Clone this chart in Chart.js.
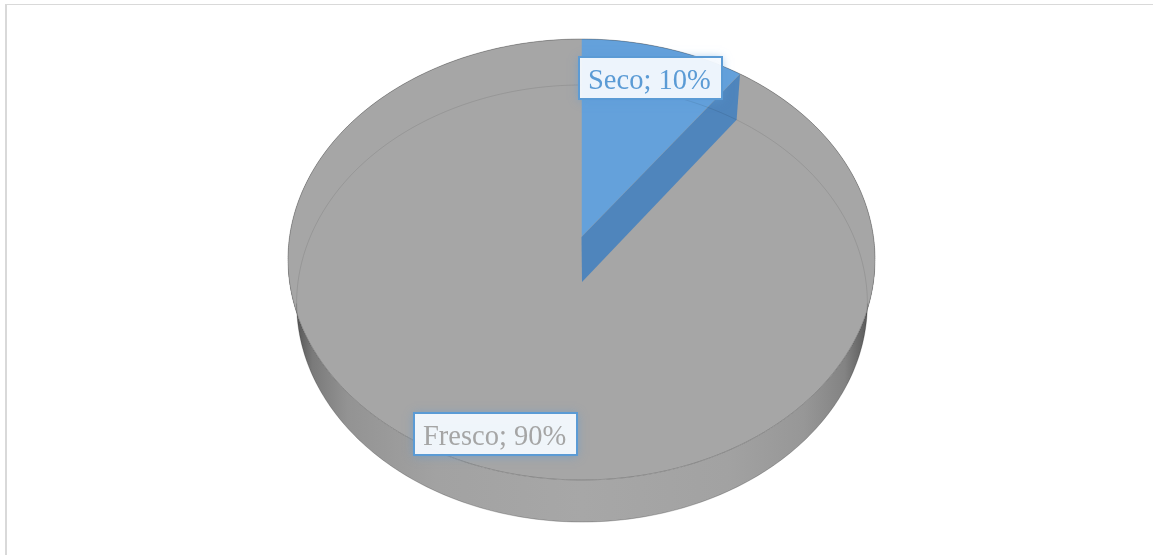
<!DOCTYPE html>
<html lang="es">
<head>
<meta charset="utf-8">
<title>Seco / Fresco</title>
<script src="https://cdn.jsdelivr.net/npm/chart.js@4.4.1/dist/chart.umd.min.js"></script>
<style>
  html, body { margin: 0; padding: 0; background: #fff; }
  #wrap { position: relative; width: 1153px; height: 555px; overflow: hidden; }
  #frame {
    position: absolute; left: 5px; top: 4px; width: 1200px; height: 600px;
    border-left: 2px solid #d9d9d9; border-top: 1px solid #d9d9d9;
    pointer-events: none;
  }
  canvas { display: block; }
</style>
</head>
<body>
<div id="wrap">
  <canvas id="pieChart" width="1153" height="555"></canvas>
  <div id="frame"></div>
</div>
<script>
const categories = ["Seco", "Fresco"];
const shares = [10, 90];

const sliceColors = ["#64a1db", "#a6a6a6"];
const wallColor = "#4f85bc";
const labelColors = ["#5b9bd5", "#a5a5a5"];
const labelRadius = [0.83, 0.87];

// the two discs of the cylinder seen in perspective:
// centre of the pie, half width, depth and foreshortening factor
const topFace = { cx: 581.5, cy: 237, a: 292, b: 218.2, k: -0.102 };
const baseFace = { cx: 582, cy: 282, a: 284, b: 216.4, k: -0.0984 };

function project(face, x, y) {
  const w = 1 + face.k * y;
  return [face.cx + face.a * x / w, face.cy + face.b * y / w];
}

function rimPoints(face, t0, t1, n) {
  const pts = [];
  for (let i = 0; i <= n; i++) {
    const t = t0 + (t1 - t0) * i / n;
    pts.push(project(face, Math.cos(t), Math.sin(t)));
  }
  return pts;
}

// angle where the rim is widest on screen
function sideAngle(face) {
  return Math.asin(-face.k);
}

function tracePoints(ctx, pts, close) {
  ctx.beginPath();
  pts.forEach((p, i) => (i ? ctx.lineTo(p[0], p[1]) : ctx.moveTo(p[0], p[1])));
  if (close) ctx.closePath();
}

function drawSide(ctx) {
  const tT = sideAngle(topFace);
  const tB = sideAngle(baseFace);
  const upper = rimPoints(topFace, tT, Math.PI - tT, 180);
  const lower = rimPoints(baseFace, Math.PI - tB, tB, 180);
  tracePoints(ctx, upper.concat(lower), true);

  const grad = ctx.createLinearGradient(289, 0, 874, 0);
  grad.addColorStop(0, "#3c3c3c");
  grad.addColorStop(0.012, "#555555");
  grad.addColorStop(0.04, "#7a7a7a");
  grad.addColorStop(0.1, "#939393");
  grad.addColorStop(0.25, "#a2a2a2");
  grad.addColorStop(0.5, "#a7a7a7");
  grad.addColorStop(0.75, "#a2a2a2");
  grad.addColorStop(0.88, "#979797");
  grad.addColorStop(0.95, "#838383");
  grad.addColorStop(0.985, "#5e5e5e");
  grad.addColorStop(1, "#404040");
  ctx.fillStyle = grad;
  ctx.fill();
}

// the pie arcs are drawn in thin horizontal strips, each with its own
// scale, so the flat circle follows the perspective of the top disc
function drawTopFace(chart) {
  const ctx = chart.ctx;
  const arcs = chart.getDatasetMeta(0).data;
  const px = arcs[0].x;
  const py = arcs[0].y;
  const r = arcs[0].outerRadius;
  const f = topFace;

  tracePoints(ctx, rimPoints(f, 0, Math.PI * 2, 360), true);
  ctx.fillStyle = sliceColors[1];
  ctx.fill();

  const yTop = Math.floor(f.cy - f.b / (1 - f.k)) - 2;
  const yBottom = Math.ceil(f.cy + f.b / (1 + f.k)) + 2;
  for (let y0 = yTop; y0 < yBottom; y0 += 2) {
    const ym = y0 + 1;
    const d = ym - f.cy;
    const Y = d / (f.b - f.k * d);
    const w = 1 + f.k * Y;
    const sx = f.a / (w * r);
    const sy = f.b / (w * w * r);
    ctx.save();
    ctx.beginPath();
    ctx.rect(0, y0, chart.width, 2);
    ctx.clip();
    ctx.transform(sx, 0, 0, sy, f.cx - sx * px, ym - sy * (py + Y * r));
    arcs.forEach((arc) => arc.draw(ctx));
    ctx.restore();
  }
}

function drawWall(chart) {
  const ctx = chart.ctx;
  const arc = chart.getDatasetMeta(0).data[0];
  const ex = Math.cos(arc.endAngle);
  const ey = Math.sin(arc.endAngle);
  const pts = [
    project(topFace, 0, 0),
    project(topFace, ex, ey),
    project(baseFace, ex, ey),
    project(baseFace, 0, 0)
  ];
  tracePoints(ctx, pts, true);
  ctx.fillStyle = wallColor;
  ctx.fill();
}

function drawEdges(ctx) {
  const tT = sideAngle(topFace);
  const tB = sideAngle(baseFace);
  ctx.lineWidth = 1;

  // far rim of the base, seen through the top
  tracePoints(ctx, rimPoints(baseFace, Math.PI - tB, Math.PI * 2 + tB, 240), false);
  ctx.strokeStyle = "rgba(0, 0, 0, 0.09)";
  ctx.stroke();

  tracePoints(ctx, rimPoints(topFace, tT, Math.PI - tT, 240), false);
  ctx.strokeStyle = "rgba(0, 0, 0, 0.2)";
  ctx.stroke();

  tracePoints(ctx, rimPoints(topFace, Math.PI - tT, Math.PI * 2 + tT, 240), false);
  ctx.strokeStyle = "rgba(0, 0, 0, 0.26)";
  ctx.stroke();

  tracePoints(ctx, rimPoints(baseFace, tB, Math.PI - tB, 240), false);
  ctx.strokeStyle = "rgba(0, 0, 0, 0.22)";
  ctx.stroke();
}

function drawLabels(chart) {
  const ctx = chart.ctx;
  const arcs = chart.getDatasetMeta(0).data;
  ctx.save();
  ctx.font = "28.5px 'Liberation Serif', 'Times New Roman', serif";
  ctx.textBaseline = "alphabetic";
  arcs.forEach((arc, i) => {
    const mid = (arc.startAngle + arc.endAngle) / 2;
    const rr = labelRadius[i];
    const [lx, ly] = project(topFace, Math.cos(mid) * rr, Math.sin(mid) * rr);
    const text = `${chart.data.labels[i]}; ${chart.data.datasets[0].data[i]}%`;
    const tw = ctx.measureText(text).width;
    const bw = Math.round(tw + 20);
    const bh = 42;
    const bx = Math.round(lx - bw / 2);
    const by = Math.round(ly - bh / 2);

    ctx.save();
    ctx.shadowColor = "rgba(91, 155, 213, 0.65)";
    ctx.shadowBlur = 9;
    ctx.shadowOffsetY = 1;
    ctx.fillStyle = "rgba(250, 252, 255, 0.92)";
    ctx.fillRect(bx, by, bw, bh);
    ctx.restore();

    ctx.lineWidth = 2;
    ctx.strokeStyle = "#5b9bd5";
    ctx.strokeRect(bx, by, bw, bh);

    ctx.fillStyle = labelColors[i];
    ctx.fillText(text, bx + 9, by + 32);
  });
  ctx.restore();
}

const cylinderPie = {
  id: "cylinderPie",
  beforeDatasetsDraw(chart) {
    const ctx = chart.ctx;
    ctx.save();
    drawSide(ctx);
    drawTopFace(chart);
    drawWall(chart);
    drawEdges(ctx);
    ctx.restore();
    return false;
  },
  afterDraw(chart) {
    drawLabels(chart);
  }
};

new Chart(document.getElementById("pieChart"), {
  type: "pie",
  data: {
    labels: categories,
    datasets: [
      {
        data: shares,
        backgroundColor: sliceColors,
        borderWidth: 0
      }
    ]
  },
  options: {
    responsive: false,
    animation: false,
    events: [],
    plugins: {
      legend: { display: false },
      tooltip: { enabled: false }
    }
  },
  plugins: [cylinderPie]
});
</script>
</body>
</html>
